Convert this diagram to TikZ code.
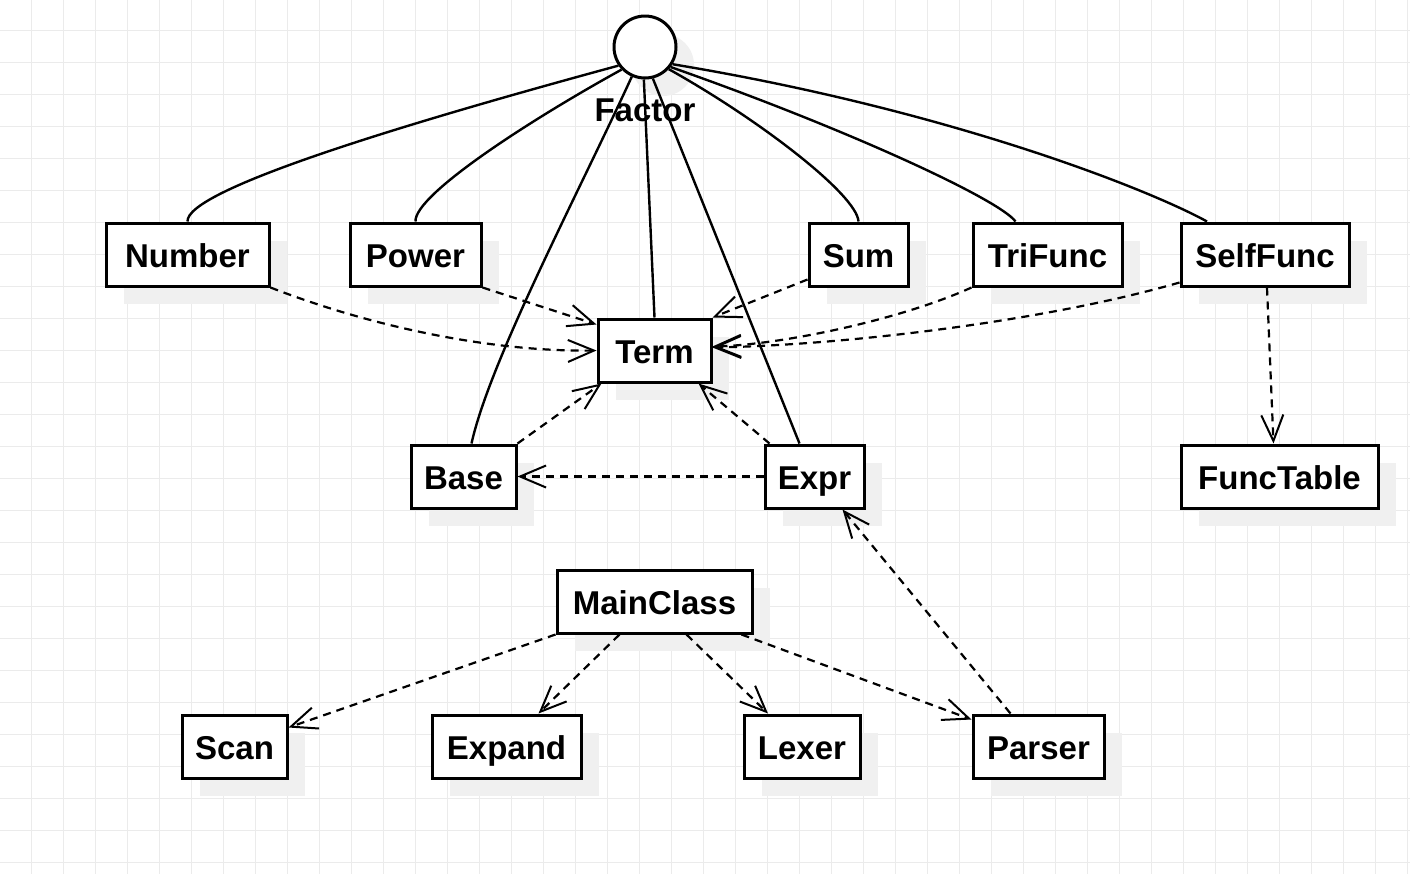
\documentclass[tikz,border=0pt]{standalone}
\usepackage{fontspec}
\setmainfont{Liberation Sans}
\usetikzlibrary{arrows.meta,shadows,calc}
\definecolor{gridc}{HTML}{EBEBEB}
\definecolor{shad}{HTML}{F0F0F0}
\tikzset{
  lbl/.style={font=\fontsize{16.5}{19}\selectfont\bfseries, text height=15pt, text depth=2.5pt},
  cls/.style={draw, line width=1.5pt, fill=white, minimum height=31.5pt, inner sep=0pt, lbl,
    drop shadow={shadow xshift=9pt, shadow yshift=-9pt, fill=shad, opacity=1}},
  assoc/.style={line width=1.2pt},
  dep/.style={line width=1.1pt, dash pattern=on 4pt off 3pt,
    -{Straight Barb[length=13pt,width=11pt,line width=1pt]}},
}
\begin{document}
\begin{tikzpicture}[x=0.5pt,y=-0.5pt]
\useasboundingbox (0,0) rectangle (1410,874);
\fill[white] (0,0) rectangle (1410,874);
\foreach \x in {31,63,...,1410} \draw[gridc, line width=0.5pt] (\x,0) -- (\x,874);
\foreach \y in {30,62,...,874} \draw[gridc, line width=0.5pt] (0,\y) -- (1410,\y);

% Factor
\node[circle, draw, line width=1.5pt, fill=white, minimum size=31pt, inner sep=0pt,
  drop shadow={shadow xshift=9pt, shadow yshift=-9pt, fill=shad, opacity=1}] (fac) at (645,47) {};

% classes
\node[cls, minimum width=81.5pt] (num) at (187.5,254.5) {Number};
\node[cls, minimum width=65.5pt] (pow) at (415.5,254.5) {Power};
\node[cls, minimum width=49.5pt] (sum) at (858.5,254.5) {Sum};
\node[cls, minimum width=74.5pt] (tri) at (1047.5,254.5) {TriFunc};
\node[cls, minimum width=84pt] (sf) at (1265,254.5) {SelfFunc};
\node[cls, minimum width=56.5pt] (term) at (654.5,350.5) {Term};
\node[cls, minimum width=52.5pt] (base) at (463.5,476.5) {Base};
\node[cls, minimum width=49.5pt] (expr) at (814.5,476.5) {Expr};
\node[cls, minimum width=98.5pt] (ft) at (1279.5,476.5) {FuncTable};
\node[cls, minimum width=97.5pt] (mc) at (654.5,601.5) {MainClass};
\node[cls, minimum width=52.5pt] (scan) at (234.5,746.5) {Scan};
\node[cls, minimum width=74.5pt] (exp) at (506.5,746.5) {Expand};
\node[cls, minimum width=58pt] (lex) at (802,746.5) {Lexer};
\node[cls, minimum width=65.5pt] (par) at (1038.5,746.5) {Parser};

% solid associations from Factor
\draw[assoc] (fac.215) .. controls (400,125) and (186,190) .. (num.north);
\draw[assoc] (fac.224) .. controls (530,120) and (414,195) .. (pow.north);
\draw[assoc] (fac.246) .. controls (580,190) and (490,360) .. ($(base.north)+(8,0)$);
\draw[assoc] (fac.268) -- (term.north);
\draw[assoc] (fac.284) -- ($(expr.north)+(-15,0)$);
\draw[assoc] (fac.317) .. controls (760,120) and (857,195) .. (sum.north);
\draw[assoc] (fac.322) .. controls (850,130) and (1000,200) .. ($(tri.north)+(-32,0)$);
\draw[assoc] (fac.328) .. controls (950,110) and (1150,190) .. ($(sf.north)+(-58,0)$);

\node[lbl] (flab) at (645,109) {Factor};

% dependencies
\draw[dep] (num.south east) .. controls (380,330) and (500,352) .. (term.west);
\draw[dep] (pow.south east) -- ($(term.north west)+(0,7)$);
\draw[dep] ($(sum.south west)+(0,-8)$) -- (term.north east);
\draw[dep] (tri.south west) .. controls (900,320) and (780,345) .. ($(term.east)+(0,-4)$);
\draw[dep] ($(sf.south west)+(0,-5)$) .. controls (1050,320) and (850,345) .. ($(term.east)+(0,-3)$);
\draw[dep] ($(sf.south)+(2,0)$) -- ($(ft.north)+(-6,0)$);
\draw[dep] (base.north east) -- ($(term.south west)+(5,0)$);
\draw[dep] ($(expr.north west)+(6,0)$) -- ($(term.south east)+(-14,0)$);
\draw[dep] (expr.west) -- (base.east);
\draw[dep] ($(par.north)+(-28,0)$) -- ($(expr.south)+(28,0)$);
\draw[dep] (mc.south west) -- ($(scan.north east)+(0,14)$);
\draw[dep] ($(mc.south)+(-35,0)$) -- ($(exp.north)+(32,0)$);
\draw[dep] ($(mc.south)+(32,0)$) -- ($(lex.north)+(-34,0)$);
\draw[dep] ($(mc.south)+(87,0)$) -- ($(par.north west)+(0,6)$);
\end{tikzpicture}
\end{document}
